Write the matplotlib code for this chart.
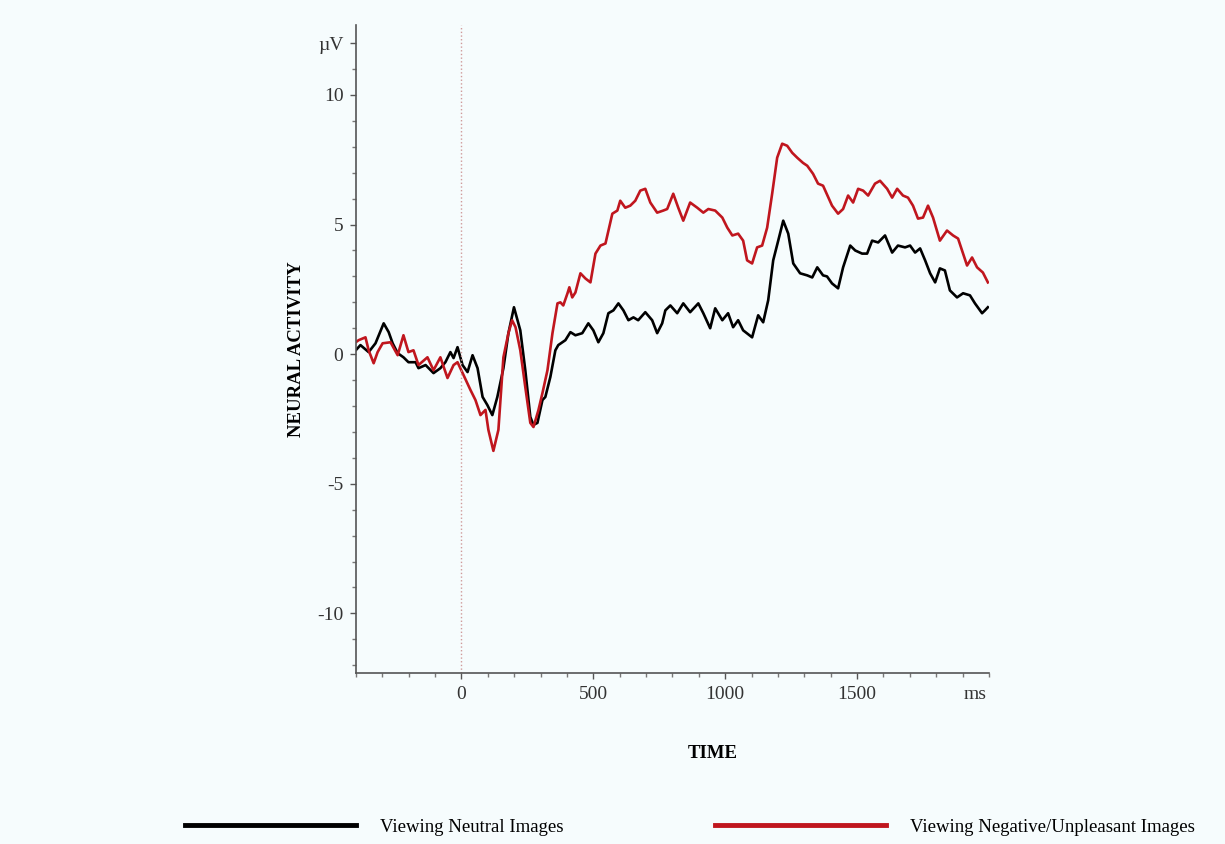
import matplotlib.pyplot as plt
from matplotlib.ticker import MultipleLocator, FixedLocator

################################ DATOS ################################
# tiempo (ms) y amplitud (uV)
t_neutral = [-401, -383, -352, -326, -295, -276, -261, -242, -220, -201, -174, -163, -136, -106, -80, -61,
             -42, -30, -15, 4, 23, 42, 61, 80, 98, 117, 136, 159, 178, 199, 223, 242, 261, 273, 288, 307,
             318, 337, 356, 367, 394, 413, 432, 458, 481, 500, 519, 538, 557, 576, 595, 614, 633, 652,
             670, 697, 723, 742, 761, 773, 792, 818, 841, 867, 898, 917, 943, 962, 989, 1011, 1030, 1049,
             1068, 1102, 1125, 1144, 1163, 1182, 1201, 1220, 1239, 1258, 1284, 1311, 1330, 1349, 1371,
             1386, 1405, 1428, 1447, 1474, 1493, 1519, 1538, 1557, 1580, 1606, 1633, 1655, 1682, 1701,
             1720, 1739, 1758, 1777, 1796, 1814, 1833, 1852, 1879, 1902, 1928, 1947, 1974, 1985, 1996]
v_neutral = [0.15, 0.35, 0.08, 0.42, 1.19, 0.85, 0.42, 0.04, -0.12, -0.31, -0.31, -0.54, -0.42, -0.73,
             -0.54, -0.31, 0.08, -0.15, 0.27, -0.42, -0.69, -0.04, -0.54, -1.65, -1.96, -2.35, -1.65,
             -0.54, 0.81, 1.81, 0.92, -0.62, -2.42, -2.73, -2.65, -1.77, -1.65, -0.88, 0.15, 0.35, 0.54,
             0.85, 0.73, 0.81, 1.19, 0.92, 0.46, 0.81, 1.58, 1.69, 1.96, 1.69, 1.31, 1.42, 1.31, 1.62,
             1.31, 0.81, 1.19, 1.69, 1.88, 1.58, 1.96, 1.62, 1.96, 1.58, 1.0, 1.77, 1.31, 1.58, 1.04,
             1.31, 0.92, 0.65, 1.5, 1.23, 2.08, 3.62, 4.38, 5.15, 4.65, 3.5, 3.12, 3.04, 2.96, 3.35,
             3.04, 3.0, 2.73, 2.54, 3.35, 4.19, 4.0, 3.88, 3.88, 4.38, 4.31, 4.58, 3.92, 4.19, 4.12,
             4.19, 3.92, 4.08, 3.62, 3.12, 2.77, 3.31, 3.23, 2.46, 2.19, 2.35, 2.27, 1.96, 1.58, 1.69, 1.81]

t_negative = [-401, -390, -364, -352, -333, -318, -299, -269, -242, -220, -201, -182, -163, -129, -106,
              -80, -53, -30, -15, 8, 34, 53, 72, 91, 102, 121, 140, 159, 178, 192, 205, 223, 242, 261,
              273, 292, 307, 326, 345, 364, 375, 386, 402, 409, 420, 432, 451, 470, 489, 508, 527, 546,
              572, 591, 602, 621, 640, 659, 678, 697, 716, 742, 765, 780, 803, 822, 841, 867, 894, 917,
              936, 962, 989, 1008, 1027, 1049, 1068, 1083, 1102, 1121, 1140, 1159, 1178, 1197, 1216,
              1235, 1254, 1273, 1295, 1311, 1333, 1352, 1371, 1405, 1428, 1447, 1466, 1485, 1504, 1523,
              1542, 1568, 1587, 1614, 1633, 1652, 1674, 1693, 1712, 1731, 1750, 1769, 1788, 1814, 1841,
              1864, 1883, 1917, 1936, 1955, 1977, 1996]
v_negative = [0.46, 0.54, 0.65, 0.15, -0.35, 0.08, 0.42, 0.46, -0.04, 0.73, 0.08, 0.15, -0.42, -0.12,
              -0.62, -0.12, -0.92, -0.42, -0.31, -0.81, -1.38, -1.77, -2.35, -2.15, -2.92, -3.73, -2.92,
              -0.12, 0.81, 1.31, 1.04, 0.15, -1.27, -2.65, -2.81, -2.15, -1.5, -0.62, 0.81, 1.96, 2.0,
              1.88, 2.35, 2.58, 2.19, 2.38, 3.12, 2.92, 2.77, 3.88, 4.19, 4.27, 5.42, 5.54, 5.92, 5.65,
              5.73, 5.92, 6.31, 6.38, 5.85, 5.46, 5.54, 5.6, 6.19, 5.65, 5.15, 5.85, 5.65, 5.46, 5.6,
              5.54, 5.27, 4.88, 4.58, 4.65, 4.38, 3.62, 3.5, 4.12, 4.19, 4.88, 6.19, 7.58, 8.12, 8.04,
              7.77, 7.58, 7.38, 7.27, 6.96, 6.58, 6.5, 5.73, 5.42, 5.6, 6.12, 5.85, 6.38, 6.31, 6.12,
              6.58, 6.69, 6.38, 6.04, 6.38, 6.12, 6.04, 5.73, 5.23, 5.27, 5.73, 5.27, 4.38, 4.77, 4.58,
              4.46, 3.42, 3.73, 3.35, 3.15, 2.77]

# etiquetas
x_ticks = [0, 500, 1000, 1500]
y_ticks = [-10, -5, 0, 5, 10, 12]
y_labels = ['-10', '-5', '0', '5', '10', 'µV']
leyenda = ['Viewing Neutral Images', 'Viewing Negative/Unpleasant Images']

################################ GRAFICA ################################
plt.rcParams['font.family'] = ['Liberation Serif', 'DejaVu Serif']
fondo = '#f6fcfd'
rojo = '#c0161e'

fig = plt.figure(figsize=(12.25, 8.44), dpi=100, facecolor=fondo)
ax = fig.add_axes([0.2906, 0.2026, 0.5167, 0.7678], facecolor=fondo)

l1, = ax.plot(t_neutral, v_neutral, color='black', lw=1.9, label=leyenda[0])
l2, = ax.plot(t_negative, v_negative, color=rojo, lw=1.9, label=leyenda[1])
ax.axvline(0, color='#cf9a9a', lw=1, ls=':')

ax.set_xlim(-400, 2000)
ax.set_ylim(-12.3, 12.7)

# ejes estilo EEG: solo izquierda y abajo
for s in ['top', 'right']:
    ax.spines[s].set_visible(False)
for s in ['left', 'bottom']:
    ax.spines[s].set_color('#555555')
    ax.spines[s].set_linewidth(1.2)

ax.xaxis.set_major_locator(FixedLocator(x_ticks))
ax.xaxis.set_minor_locator(MultipleLocator(100))
ax.yaxis.set_major_locator(FixedLocator(y_ticks))
ax.set_yticklabels(y_labels)
ax.yaxis.set_minor_locator(MultipleLocator(1))
ax.tick_params(which='major', length=4, width=1, color='#555555', labelsize=14, labelcolor='#333333', pad=5)
ax.tick_params(which='minor', length=3, width=1, color='#777777')

ax.annotate('ms', xy=(1.0, 0), xycoords='axes fraction', xytext=(-10, -9), textcoords='offset points',
            ha='center', va='top', fontsize=14, color='#333333')

ax.set_xlabel('TIME', fontsize=13.5, fontweight='bold')
ax.xaxis.set_label_coords(0.564, -0.111)
ax.set_ylabel('NEURAL ACTIVITY', fontsize=13.5, fontweight='bold')
ax.yaxis.set_label_coords(-0.081, 0.5)

leg = fig.legend(handles=[l1, l2], loc='center', bbox_to_anchor=(690 / 1225, 1 - 827 / 844), ncol=2,
                 frameon=False, fontsize=13.5, handlelength=9.1, handletextpad=1.3, columnspacing=8.1)
for l in leg.get_lines():
    l.set_linewidth(3.5)

plt.savefig('out.png', dpi=100, facecolor=fondo)
